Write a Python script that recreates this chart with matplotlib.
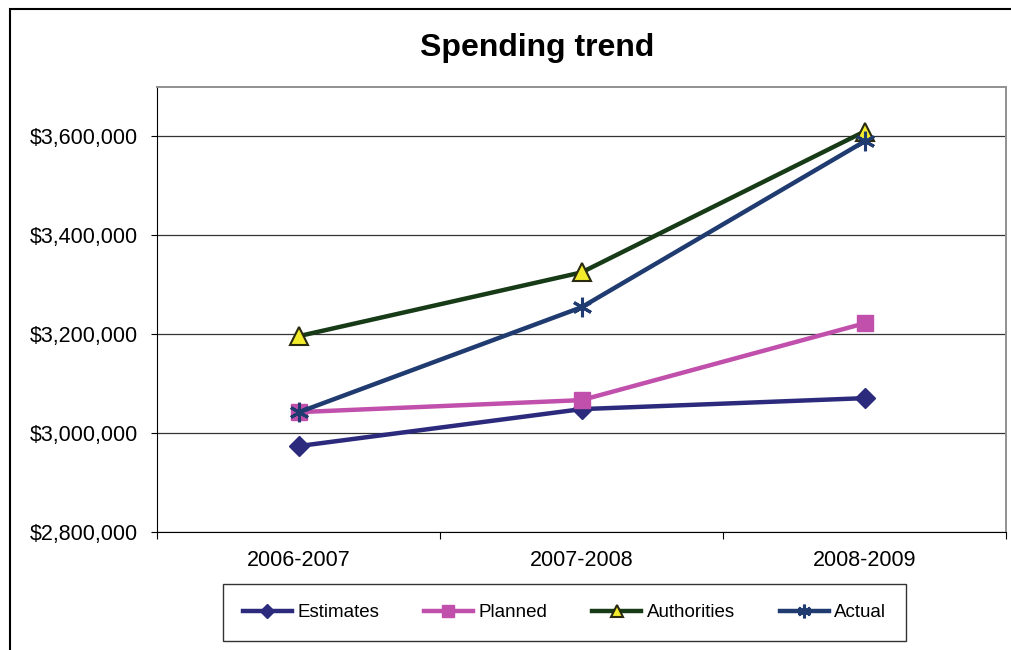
import matplotlib.pyplot as plt
import matplotlib.patches as patches
from matplotlib.ticker import FuncFormatter, MultipleLocator

years = ["2006-2007", "2007-2008", "2008-2009"]
estimates = [2973700, 3048500, 3070700]
planned = [3042400, 3066700, 3222000]
authorities = [3196000, 3325000, 3610000]
actual = [3042000, 3254500, 3590000]

plt.rcParams['font.family'] = ['Liberation Sans', 'DejaVu Sans']

fig = plt.figure(figsize=(10.11, 6.5), dpi=100)
ax = fig.add_axes([157/1011, 1-532/650, (1006-157)/1011, (532-87)/650])

x = range(len(years))
lw = 3.2
ax.plot(x, estimates, color='#2B2A7C', lw=lw, marker='D', ms=10,
        mfc='#2B2A7C', mec='#2B2A7C', label='Estimates', zorder=3)
ax.plot(x, planned, color='#C050AC', lw=lw, marker='s', ms=12,
        mfc='#C050AC', mec='#C050AC', label='Planned', zorder=3)
ax.plot(x, authorities, color='#173A17', lw=lw, marker='^', ms=13,
        mfc='#F2EC2C', mec='#2A2A10', mew=1.5, label='Authorities', zorder=3)
ax.plot(x, actual, color='#1F3B70', lw=lw, marker=(6, 2, 0), ms=14,
        mec='#1F3B70', mew=2.2, label='Actual', zorder=4)

ax.set_xlim(-0.5, 2.5)
ax.set_ylim(2800000, 3700000)
ax.yaxis.set_major_locator(MultipleLocator(200000))
ax.yaxis.set_major_formatter(FuncFormatter(lambda v, p: '${:,.0f}'.format(v)))
ax.set_xticks([-0.5, 0.5, 1.5, 2.5])
ax.set_xticklabels([])
ax.set_xticks(list(x), minor=True)
ax.set_xticklabels(years, minor=True)
ax.tick_params(axis='x', which='minor', length=0, labelsize=15.5, pad=13)
ax.tick_params(axis='x', which='major', length=5, direction='out')
ax.tick_params(axis='y', length=4.5, direction='out', labelsize=15.5, pad=9)

ax.grid(axis='y', color='#333333', lw=0.9)
ax.set_axisbelow(True)
for s in ['top', 'right']:
    ax.spines[s].set_color('#909090')
    ax.spines[s].set_linewidth(1.4)
ax.spines['left'].set_color('black')
ax.spines['bottom'].set_color('black')

fig.text(537/1011, 1-48/650, 'Spending trend', ha='center', va='center',
         fontsize=23, fontweight='bold')

leg = fig.legend(loc='center', bbox_to_anchor=(564.5/1011, 1-612.5/650), ncol=4,
                 fontsize=13.5, frameon=True, fancybox=False, edgecolor='black',
                 handlelength=2.6, columnspacing=2.4, borderpad=1.05,
                 handletextpad=0.3, markerscale=0.7)
leg.get_frame().set_linewidth(1.0)

# outer chart border (runs off right and bottom edges)
fig.patches.append(patches.Rectangle((10/1011, -0.05), 1.2, 1-9/650+0.05,
                                     transform=fig.transFigure, fill=False,
                                     edgecolor='black', lw=1.5))

fig.savefig('out.png', dpi=100)
